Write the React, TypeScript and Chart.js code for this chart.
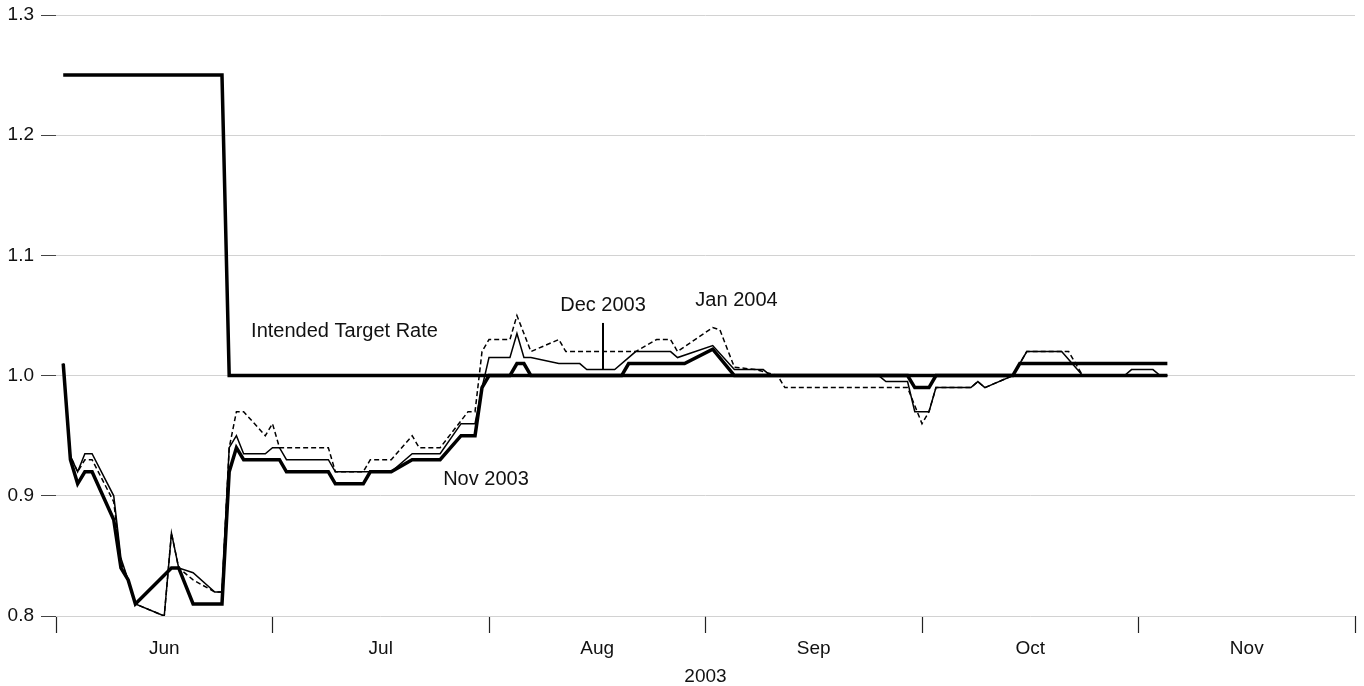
import React, { useEffect, useRef } from 'react';
import { Chart, registerables } from 'chart.js';

Chart.register(...registerables);

// ---- axis definitions ----
const monthLabels = ['Jun', 'Jul', 'Aug', 'Sep', 'Oct', 'Nov'];
const daysInMonth = [30, 31, 31, 30, 31, 30];
const yTickValues = [0.8, 0.9, 1.0, 1.1, 1.2, 1.3];
const xAxisTitle = '2003';

// ---- Intended Target Rate ----
const targetDates = ['06-02', '06-24', '06-25', '11-05'];
const targetValues = [1.25, 1.25, 1.0, 1.0];

// ---- Nov 2003 contract ----
const novDates = ['06-02', '06-03', '06-04', '06-05', '06-06', '06-09', '06-10', '06-11', '06-12', '06-17', '06-18', '06-20', '06-24', '06-25', '06-26', '06-27', '07-02', '07-03', '07-09', '07-10', '07-14', '07-15', '07-18', '07-21', '07-25', '07-28', '07-30', '07-31', '08-01', '08-04', '08-05', '08-06', '08-07', '08-20', '08-21', '08-29', '09-02', '09-05', '09-29', '09-30', '10-02', '10-03', '10-14', '10-15', '11-05'];
const novValues = [1.01, 0.93, 0.91, 0.92, 0.92, 0.88, 0.84, 0.83, 0.81, 0.84, 0.84, 0.81, 0.81, 0.92, 0.94, 0.93, 0.93, 0.92, 0.92, 0.91, 0.91, 0.92, 0.92, 0.93, 0.93, 0.95, 0.95, 0.99, 1.0, 1.0, 1.01, 1.01, 1.0, 1.0, 1.01, 1.01, 1.022, 1.0, 1.0, 0.99, 0.99, 1.0, 1.0, 1.01, 1.01];

// ---- Dec 2003 contract ----
const decDates = ['06-02', '06-03', '06-04', '06-05', '06-06', '06-09', '06-10', '06-11', '06-12', '06-16', '06-17', '06-18', '06-20', '06-23', '06-24', '06-25', '06-26', '06-27', '06-30', '07-01', '07-02', '07-03', '07-09', '07-10', '07-18', '07-21', '07-25', '07-28', '07-30', '07-31', '08-01', '08-04', '08-05', '08-06', '08-07', '08-11', '08-14', '08-15', '08-19', '08-22', '08-27', '08-28', '09-02', '09-05', '09-09', '09-10', '09-25', '09-26', '09-29', '09-30', '10-02', '10-03', '10-08', '10-09', '10-10', '10-14', '10-16', '10-21', '10-24', '10-30', '10-31', '11-03', '11-04', '11-05'];
const decValues = [1.01, 0.933, 0.92, 0.935, 0.935, 0.9, 0.848, 0.83, 0.81, 0.8, 0.869, 0.84, 0.836, 0.82, 0.82, 0.94, 0.95, 0.935, 0.935, 0.94, 0.94, 0.93, 0.93, 0.92, 0.92, 0.935, 0.935, 0.96, 0.96, 0.99, 1.015, 1.015, 1.035, 1.015, 1.015, 1.01, 1.01, 1.005, 1.005, 1.02, 1.02, 1.015, 1.025, 1.005, 1.005, 1.0, 1.0, 0.995, 0.995, 0.97, 0.97, 0.99, 0.99, 0.995, 0.99, 1.0, 1.02, 1.02, 1.0, 1.0, 1.005, 1.005, 1.0, 1.0];

// ---- Jan 2004 contract ----
const janDates = ['06-02', '06-03', '06-04', '06-05', '06-06', '06-09', '06-10', '06-11', '06-12', '06-16', '06-17', '06-18', '06-20', '06-23', '06-24', '06-25', '06-26', '06-27', '06-30', '07-01', '07-02', '07-09', '07-10', '07-14', '07-15', '07-18', '07-21', '07-22', '07-25', '07-29', '07-30', '07-31', '08-01', '08-04', '08-05', '08-07', '08-11', '08-12', '08-22', '08-25', '08-27', '08-28', '09-02', '09-03', '09-05', '09-08', '09-11', '09-12', '09-29', '10-01', '10-02', '10-03', '10-08', '10-09', '10-10', '10-14', '10-16', '10-22', '10-24', '11-05'];
const janValues = [1.01, 0.933, 0.92, 0.93, 0.93, 0.895, 0.845, 0.83, 0.81, 0.8, 0.869, 0.84, 0.83, 0.82, 0.82, 0.94, 0.97, 0.97, 0.95, 0.96, 0.94, 0.94, 0.92, 0.92, 0.93, 0.93, 0.95, 0.94, 0.94, 0.97, 0.97, 1.02, 1.03, 1.03, 1.05, 1.02, 1.03, 1.02, 1.02, 1.03, 1.03, 1.02, 1.04, 1.038, 1.007, 1.005, 1.0, 0.99, 0.99, 0.96, 0.97, 0.99, 0.99, 0.995, 0.99, 1.0, 1.02, 1.02, 1.0, 1.0];

// ---- text annotations (data coordinates: month position, rate) ----
const annotationTexts = ['Intended Target Rate', 'Dec 2003', 'Jan 2004', 'Nov 2003'];
const annotationX = [1.3326, 2.5266, 3.1432, 1.986];
const annotationY = [1.032, 1.0535, 1.0575, 0.9090];
const pointerX = 2.5266;
const pointerYTop = 1.0438;
const pointerYBottom = 1.0055;

const FONT = "'Liberation Sans', Arial, Helvetica, sans-serif";

function monthPos(md: string): number {
  const [m, d] = md.split('-').map(Number);
  const i = m - 6;
  return i + (d - 1) / daysInMonth[i];
}

function toPoints(dates: string[], values: number[]) {
  return dates.map((d, i) => ({ x: monthPos(d), y: values[i] }));
}

const annotationPlugin = {
  id: 'textAnnotations',
  afterDatasetsDraw(chart: any) {
    const { ctx, scales } = chart;
    const xs = scales.x;
    const ys = scales.y;
    ctx.save();
    ctx.fillStyle = '#111';
    ctx.font = `20px ${FONT}`;
    ctx.textAlign = 'center';
    ctx.textBaseline = 'alphabetic';
    annotationTexts.forEach((t, i) => {
      ctx.fillText(t, xs.getPixelForValue(annotationX[i]), ys.getPixelForValue(annotationY[i]));
    });
    ctx.strokeStyle = '#000';
    ctx.lineWidth = 2;
    ctx.beginPath();
    const px = xs.getPixelForValue(pointerX);
    ctx.moveTo(px, ys.getPixelForValue(pointerYTop));
    ctx.lineTo(px, ys.getPixelForValue(pointerYBottom));
    ctx.stroke();
    ctx.restore();
  },
};

export default function App() {
  const canvasRef = useRef<HTMLCanvasElement | null>(null);

  useEffect(() => {
    if (!canvasRef.current) return;
    const xTickPositions: number[] = [];
    for (let i = 0; i <= monthLabels.length * 2; i++) xTickPositions.push(i / 2);

    const chart = new Chart(canvasRef.current, {
      type: 'line',
      data: {
        datasets: [
          {
            label: 'Intended Target Rate',
            data: toPoints(targetDates, targetValues),
            borderColor: '#000',
            borderWidth: 3.5,
            pointRadius: 0,
            tension: 0,
            fill: false,
          },
          {
            label: 'Nov 2003',
            data: toPoints(novDates, novValues),
            borderColor: '#000',
            borderWidth: 3.5,
            pointRadius: 0,
            tension: 0,
            fill: false,
          },
          {
            label: 'Dec 2003',
            data: toPoints(decDates, decValues),
            borderColor: '#000',
            borderWidth: 1.5,
            pointRadius: 0,
            tension: 0,
            fill: false,
          },
          {
            label: 'Jan 2004',
            data: toPoints(janDates, janValues),
            borderColor: '#000',
            borderWidth: 1.5,
            borderDash: [5, 3],
            pointRadius: 0,
            tension: 0,
            fill: false,
          },
        ],
      },
      options: {
        animation: false,
        responsive: true,
        maintainAspectRatio: false,
        layout: { padding: { top: 15, right: 9, left: 0, bottom: 0 } },
        plugins: {
          legend: { display: false },
          tooltip: { enabled: false },
        },
        scales: {
          x: {
            type: 'linear',
            min: 0,
            max: monthLabels.length,
            afterBuildTicks: (s: any) => {
              s.ticks = xTickPositions.map((v) => ({ value: v }));
            },
            afterFit: (s: any) => {
              s.height = 70;
              s.paddingLeft = 0;
              s.paddingRight = 0;
            },
            ticks: {
              autoSkip: false,
              maxRotation: 0,
              minRotation: 0,
              padding: 4,
              color: '#111',
              font: { family: FONT, size: 19 },
              callback: (v: any) => (Number.isInteger(v) ? '' : monthLabels[Math.floor(v)]),
            },
            grid: {
              drawOnChartArea: false,
              drawTicks: true,
              tickLength: 17,
              tickWidth: 1.2,
              tickColor: (c: any) =>
                c.tick && Number.isInteger(c.tick.value) ? '#222' : 'rgba(0,0,0,0)',
            },
            border: { display: false },
            title: {
              display: true,
              text: xAxisTitle,
              color: '#111',
              font: { family: FONT, size: 19, lineHeight: 1.0 },
              padding: { top: 0, bottom: 0 },
            },
          },
          y: {
            type: 'linear',
            min: yTickValues[0],
            max: yTickValues[yTickValues.length - 1],
            afterBuildTicks: (s: any) => {
              s.ticks = yTickValues.map((v) => ({ value: v }));
            },
            afterFit: (s: any) => {
              s.width = 56;
              s.paddingTop = 0;
              s.paddingBottom = 0;
            },
            ticks: {
              padding: 7,
              color: '#111',
              font: { family: FONT, size: 19 },
              callback: (v: any) => Number(v).toFixed(1),
            },
            grid: {
              color: '#d2d2d2',
              lineWidth: 1,
              tickColor: '#444',
              tickLength: 15,
            },
            border: { display: false },
          },
        },
      },
      plugins: [annotationPlugin],
    });
    return () => chart.destroy();
  }, []);

  return (
    <div style={{ position: 'absolute', left: 0, top: 0, width: 1364, height: 686, background: '#fff' }}>
      <canvas ref={canvasRef} />
    </div>
  );
}
